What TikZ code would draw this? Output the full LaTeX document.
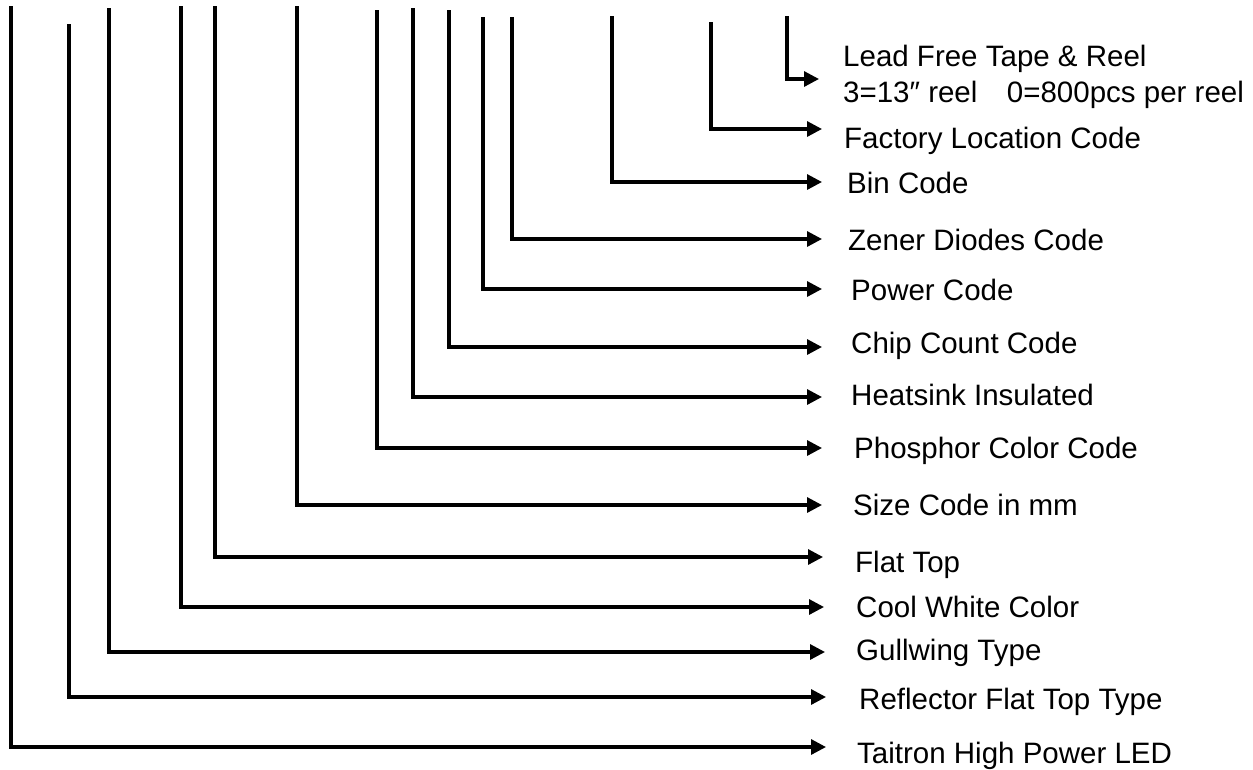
\documentclass[tikz,border=0pt]{standalone}
\usepackage{fontspec}
\setmainfont{Liberation Sans}
\usetikzlibrary{arrows.meta}
\tikzset{
  conn/.style={line width=3.2pt, line join=miter, -{Triangle[length=15pt,width=15pt]}},
  lbl/.style={anchor=base west, inner sep=0pt, font=\fontsize{29.5}{36}\selectfont, align=left}
}
\begin{document}
\begin{tikzpicture}[x=1pt,y=-1pt]
\useasboundingbox (0,0) rectangle (1253,769);
% tops of the code lines
\coordinate (t1) at (11,6);
\coordinate (t2) at (69,24);
\coordinate (t3) at (109,8);
\coordinate (t4) at (181,6);
\coordinate (t5) at (215,6);
\coordinate (t6) at (297,6);
\coordinate (t7) at (377,10);
\coordinate (t8) at (413,8);
\coordinate (t9) at (449,10);
\coordinate (t10) at (483,17);
\coordinate (t11) at (512,17);
\coordinate (t12) at (612,16);
\coordinate (t13) at (711,22);
\coordinate (t14) at (787,16);
% arrow tips
\coordinate (e1) at (826,747);
\coordinate (e2) at (826,697);
\coordinate (e3) at (825,652);
\coordinate (e4) at (824,607);
\coordinate (e5) at (823,557);
\coordinate (e6) at (822,505);
\coordinate (e7) at (822,448);
\coordinate (e8) at (822,397);
\coordinate (e9) at (822,347);
\coordinate (e10) at (822,289);
\coordinate (e11) at (822,239);
\coordinate (e12) at (822,182);
\coordinate (e13) at (822,129);
\coordinate (e14) at (819,79);
% labels
\node[lbl] (l1) at (857,763) {Taitron High Power LED};
\node[lbl] (l2) at (859,709) {Reflector Flat Top Type};
\node[lbl] (l3) at (856,660) {Gullwing Type};
\node[lbl] (l4) at (856,617) {Cool White Color};
\node[lbl] (l5) at (855,572) {Flat Top};
\node[lbl] (l6) at (853,515) {Size Code in mm};
\node[lbl] (l7) at (854,458) {Phosphor Color Code};
\node[lbl] (l8) at (851,405) {Heatsink Insulated};
\node[lbl] (l9) at (851,353) {Chip Count Code};
\node[lbl] (l10) at (851,300) {Power Code};
\node[lbl] (l11) at (848,250) {Zener Diodes Code};
\node[lbl] (l12) at (847,193) {Bin Code};
\node[lbl] (l13) at (844,148) {Factory Location Code};
\node[lbl] (l14a) at (843,66) {Lead Free Tape \& Reel};
\node[lbl] (l14b) at (843,102) {3=13″ reel\hspace{1em}0=800pcs per reel};
% connectors
\foreach \i in {1,...,14}{
  \draw[conn] (t\i) |- (e\i);
}
\end{tikzpicture}
\end{document}
